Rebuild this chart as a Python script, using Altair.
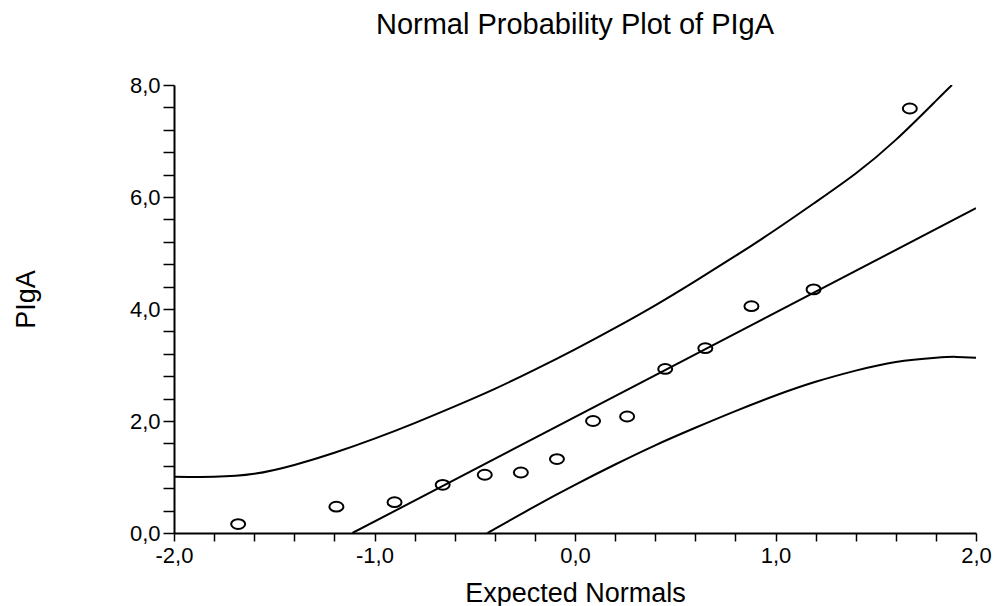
import altair as alt
import pandas as pd

# Observed points (expected normal score, PIgA)
x_norm = [-1.68, -1.19, -0.90, -0.66, -0.45, -0.27, -0.09, 0.09, 0.26, 0.45, 0.65, 0.88, 1.19, 1.67]
piga = [0.16, 0.47, 0.55, 0.86, 1.04, 1.08, 1.32, 2.00, 2.08, 2.93, 3.30, 4.05, 4.35, 7.58]

# Fitted line
center_x = [-1.11, 2.00]
center_y = [0.00, 5.80]

# Upper confidence band
upper_x = [-2.0, -1.8, -1.6, -1.4, -1.2, -1.0, -0.8, -0.6, -0.4, -0.2, 0.0, 0.2, 0.4, 0.6, 0.8, 1.0, 1.2, 1.4, 1.6, 1.8, 1.88]
upper_y = [1.005, 1.003, 1.056, 1.214, 1.432, 1.685, 1.963, 2.261, 2.574, 2.917, 3.28, 3.663, 4.066, 4.499, 4.947, 5.415, 5.908, 6.42, 7.02, 7.717, 8.00]

# Lower confidence band
lower_x = [-0.44, -0.4, -0.2, 0.0, 0.2, 0.4, 0.6, 0.8, 1.0, 1.2, 1.4, 1.6, 1.8, 1.9, 2.0]
lower_y = [0.00, 0.074, 0.477, 0.86, 1.223, 1.566, 1.879, 2.177, 2.455, 2.70, 2.90, 3.055, 3.13, 3.145, 3.13]

x_ticks = [-2.0, -1.8, -1.6, -1.4, -1.2, -1.0, -0.8, -0.6, -0.4, -0.2, 0.0,
           0.2, 0.4, 0.6, 0.8, 1.0, 1.2, 1.4, 1.6, 1.8, 2.0]
y_ticks = [0.0, 0.4, 0.8, 1.2, 1.6, 2.0, 2.4, 2.8, 3.2, 3.6, 4.0,
           4.4, 4.8, 5.2, 5.6, 6.0, 6.4, 6.8, 7.2, 7.6, 8.0]

FONT = "Liberation Sans"

pts = pd.DataFrame({"x": x_norm, "y": piga})
lines = pd.concat([
    pd.DataFrame({"x": center_x, "y": center_y, "s": "center"}),
    pd.DataFrame({"x": upper_x, "y": upper_y, "s": "upper"}),
    pd.DataFrame({"x": lower_x, "y": lower_y, "s": "lower"}),
], ignore_index=True)

xscale = alt.Scale(domain=[-2, 2], nice=False, zero=False)
yscale = alt.Scale(domain=[0, 8], nice=False, zero=False)

label_fmt = "replace(replace(format(datum.value, '.1f'), '.', ','), '\u2212', '-')"

xaxis = alt.Axis(
    title="Expected Normals", values=x_ticks, tickCount=60,
    labelExpr=f"round(datum.value*10) % 10 == 0 ? {label_fmt} : ''",
    grid=False, domainColor="black", domainWidth=2, tickColor="black", tickWidth=1.5,
    tickSize=8, labelPadding=4, labelFontSize=22, labelFont=FONT, labelColor="black",
    labelOverlap=False, labelFlush=False,
    titleFontSize=27, titleFont=FONT, titleFontWeight="normal", titleColor="black",
    titleY=68, titleBaseline="alphabetic",
)
yaxis = alt.Axis(
    title="PIgA", values=y_ticks, tickCount=60,
    labelExpr=f"round(datum.value*10) % 20 == 0 ? {label_fmt} : ''",
    grid=False, domainColor="black", domainWidth=2, tickColor="black", tickWidth=1.5,
    tickSize=11, labelPadding=3, labelFontSize=22, labelFont=FONT, labelColor="black",
    labelOverlap=False, labelFlush=False,
    titleFontSize=27, titleFont=FONT, titleFontWeight="normal", titleColor="black",
    titleX=-148, titleY=214, titleBaseline="middle", titleAngle=270,
)

line_layer = alt.Chart(lines).mark_line(color="black", strokeWidth=2, interpolate="natural", clip=True).encode(
    x=alt.X("x:Q", scale=xscale, axis=xaxis),
    y=alt.Y("y:Q", scale=yscale, axis=yaxis),
    detail="s:N",
)

ellipse = "M-1,0 A1,0.7,0,1,1,1,0 A1,0.7,0,1,1,-1,0 Z"
pt_layer = alt.Chart(pts).mark_point(
    shape=ellipse, size=196, filled=False, stroke="black", strokeWidth=2, opacity=1
).encode(
    x=alt.X("x:Q", scale=xscale),
    y=alt.Y("y:Q", scale=yscale),
)

chart = alt.layer(line_layer, pt_layer).properties(
    width=802, height=448,
    title=alt.TitleParams(
        "Normal Probability Plot of PIgA", fontSize=29, font=FONT, fontWeight="normal",
        color="black", anchor="middle", frame="group", offset=34,
    ),
    autosize=alt.AutoSizeParams(type="none"),
    padding={"left": 174, "top": 85, "right": 20, "bottom": 73},
    background="white",
).configure_view(stroke=None)

chart.save("out.html", embed_options={"renderer": "svg", "actions": False})
